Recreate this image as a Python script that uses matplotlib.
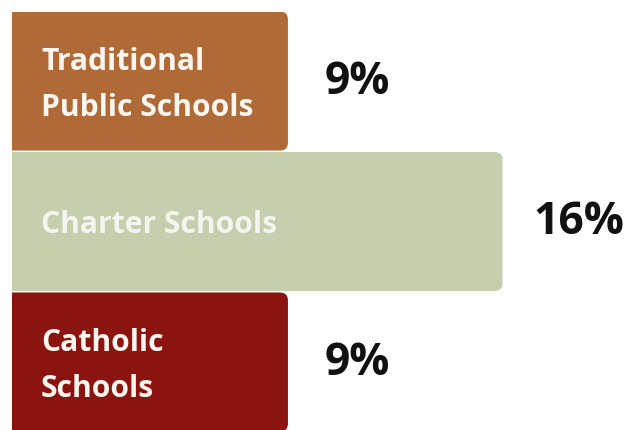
import matplotlib
matplotlib.use("Agg")
import matplotlib.pyplot as plt
from matplotlib.patches import FancyBboxPatch

categories = ["Traditional\nPublic Schools", "Charter Schools", "Catholic\nSchools"]
values = [9, 16, 9]
colors = ["#b06a37", "#c5cfad", "#8c1410"]
label_colors = ["#fbf6ef", "#f3f5ee", "#fbf6ef"]
pct_pad = [37, 31, 37]

plt.rcParams["font.family"] = ["Open Sans", "DejaVu Sans"]

fig = plt.figure(figsize=(6.24, 4.31), dpi=100)
ax = fig.add_axes([0, 0, 1, 1])
ax.set_xlim(-0.391, 19.96)
ax.set_ylim(2.484, -0.584)
ax.axis("off")

bars = ax.barh(range(len(values)), values, height=0.99, color=colors)

# round only the right corners: clip each bar with a rounded box reaching far left
px_x = 624 / (19.96 + 0.391)
px_y = 431 / (2.484 + 0.584)
r = 8 / px_x
for b in bars:
    x0, y0 = b.get_x(), b.get_y()
    w, h = b.get_width(), b.get_height()
    clip = FancyBboxPatch((x0 - 5, y0), w + 5, h,
                          boxstyle=f"round,pad=0,rounding_size={r}",
                          mutation_aspect=px_x / px_y,
                          transform=ax.transData, facecolor="none", edgecolor="none")
    ax.add_patch(clip)
    b.set_clip_path(clip)

for i, (cat, v) in enumerate(zip(categories, values)):
    ax.text(0.95, i + 0.02, cat, color=label_colors[i], fontsize=21.6, fontweight="bold",
            va="center", ha="left", linespacing=1.72)
    ax.annotate(f"{v}%", xy=(v, i), xytext=(pct_pad[i], 0), textcoords="offset pixels",
                fontsize=32, fontweight="bold", color="#111111",
                va="center", ha="left")

fig.savefig("out.png", dpi=100, facecolor="white")
